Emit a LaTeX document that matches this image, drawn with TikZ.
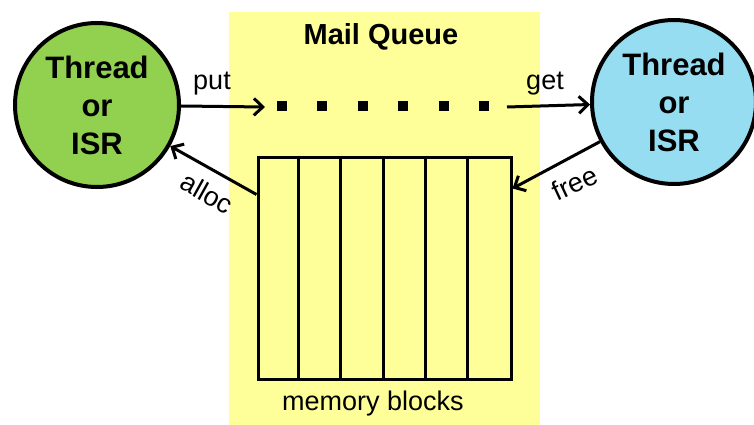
\documentclass[tikz,border=0pt]{standalone}
\usepackage{fontspec}
\setmainfont{Liberation Sans}
\usetikzlibrary{arrows.meta, calc, positioning}
\definecolor{qyellow}{RGB}{255,255,153}
\definecolor{thgreen}{RGB}{146,208,80}
\definecolor{thblue}{RGB}{150,221,242}

\begin{document}
\begin{tikzpicture}[x=1pt, y=-1pt,
    thread/.style={circle, draw, line width=4pt, minimum size=164pt, inner sep=0pt,
        align=center, font=\fontsize{31}{38}\selectfont\bfseries},
    lbl/.style={font=\fontsize{27}{30}\selectfont},
    flow/.style={line width=3pt, -{Straight Barb[length=9pt, width=17pt]}}]
    \useasboundingbox (0,0) rectangle (754,425);
    % queue area
    \fill[qyellow] (229,12) rectangle (540,425);
    \node[anchor=base, font=\fontsize{29}{32}\selectfont\bfseries] (title) at (381,45) {Mail Queue};
    % threads
    \node[thread, fill=thgreen] (thrA) at (97,105) {Thread\\or\\ISR};
    \node[thread, fill=thblue] (thrB) at (674,102) {Thread\\or\\ISR};
    % memory blocks
    \node[draw, line width=3pt, minimum width=253pt, minimum height=222pt] (blocks) at (384.5,268) {};
    \foreach \i in {1,...,5}
        \draw[line width=3pt] ($(blocks.north west)+(42.2*\i,0)$) -- ($(blocks.south west)+(42.2*\i,0)$);
    \node[lbl, anchor=base] (memlbl) at (373,410) {memory blocks};
    % messages
    \foreach \x in {282,322,363,403,444,484}
        \fill (\x-5,101) rectangle (\x+5,111);
    \coordinate (putE) at (265,107);
    \coordinate (getS) at (507,107);
    \coordinate (allocS) at ($(blocks.north west)+(0,39)$);
    \coordinate (freeE) at ($(blocks.north east)+(0,33)$);
    \draw[flow] (thrA) -- (putE);
    \draw[flow] (getS) -- (thrB);
    \draw[flow] (allocS) -- (thrA);
    \draw[flow] (thrB) -- (freeE);
    \node[lbl, anchor=base] (putlbl) at (212,90) {put};
    \node[lbl, anchor=base] (getlbl) at (545,90) {get};
    \node[lbl, rotate=-29] (alloclbl) at (207,193) {alloc};
    \node[lbl, rotate=25] (freelbl) at (575,183) {free};
\end{tikzpicture}
\end{document}
